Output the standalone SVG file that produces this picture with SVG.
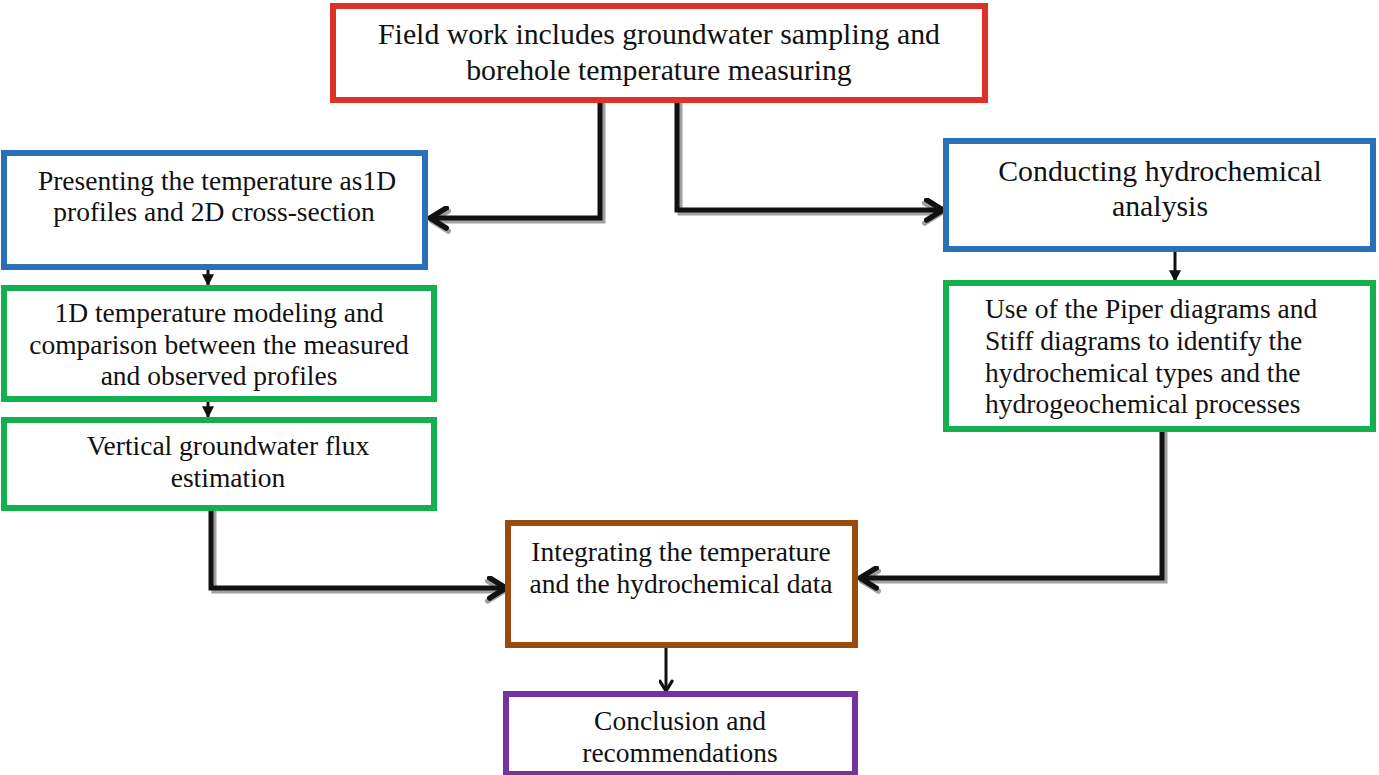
<svg xmlns="http://www.w3.org/2000/svg" width="1379" height="775" viewBox="0 0 1379 775">
<style>
.box{fill:#fff;stroke-width:6}
.red{stroke:#e03127}
.blue{stroke:#2a70b8}
.green{stroke:#12b04f}
.brown{stroke:#9a4a0c}
.purple{stroke:#7432a0}
text{font-family:"Liberation Serif","Times New Roman",serif;fill:#111;text-anchor:middle}
.t26{font-size:29.8px}
.t24{font-size:27.5px}
.conn{fill:none;stroke:#111;stroke-width:5}
.shadow{fill:none;stroke:#a0a0a0;stroke-width:5}
.thin{fill:none;stroke:#111;stroke-width:3}
</style>
<defs>
<marker id="chev" viewBox="0 0 10 10" refX="8.5" refY="5" markerWidth="5" markerHeight="5" orient="auto" markerUnits="strokeWidth">
<polyline points="2,1 8.5,5 2,9" fill="none" stroke="#111" stroke-width="2.2" stroke-linecap="round" stroke-linejoin="round"/>
</marker>
<marker id="chevs" viewBox="0 0 10 10" refX="8.5" refY="5" markerWidth="5" markerHeight="5" orient="auto" markerUnits="strokeWidth">
<polyline points="2,1 8.5,5 2,9" fill="none" stroke="#a0a0a0" stroke-width="2.2" stroke-linecap="round" stroke-linejoin="round"/>
</marker>
<marker id="tri" viewBox="0 0 10 10" refX="9" refY="5" markerWidth="4" markerHeight="4" orient="auto" markerUnits="strokeWidth">
<path d="M0,0 L10,5 L0,10 z" fill="#111"/>
</marker>
</defs>

<g id="connectors">
<path class="shadow" d="M603,103 V221 H432" marker-end="url(#chevs)"/>
<path class="shadow" d="M680,103 V213 H941" marker-end="url(#chevs)"/>
<path class="shadow" d="M214,508 V591 H504" marker-end="url(#chevs)"/>
<path class="shadow" d="M1165,431 V581 H862" marker-end="url(#chevs)"/>
<path class="conn" d="M600,100 V218 H430" marker-end="url(#chev)"/>
<path class="conn" d="M677,100 V210 H943" marker-end="url(#chev)"/>
<path class="conn" d="M211,505 V588 H506" marker-end="url(#chev)"/>
<path class="conn" d="M1162,428 V578 H860" marker-end="url(#chev)"/>
<path class="thin" d="M208,270 V285" marker-end="url(#tri)"/>
<path class="thin" d="M208,402 V417" marker-end="url(#tri)"/>
<path class="thin" d="M1175,252 V281" marker-end="url(#tri)"/>
<path class="thin" d="M666,638 V691" marker-end="url(#chev)"/>
</g>

<g id="n1">
<rect class="box red" x="333" y="6" width="652" height="94"/>
<text class="t26" x="659" y="44">Field work includes groundwater sampling and</text>
<text class="t26" x="659" y="80">borehole temperature measuring</text>
</g>
<g id="n2">
<rect class="box blue" x="4" y="153" width="421" height="114"/>
<text class="t24" x="217" y="190">Presenting the temperature as1D</text>
<text class="t24" x="214" y="221">profiles and 2D cross-section</text>
</g>
<g id="n3">
<rect class="box green" x="4" y="288" width="430" height="111"/>
<text class="t24" x="219" y="322">1D temperature modeling and</text>
<text class="t24" x="219" y="354">comparison between the measured</text>
<text class="t24" x="219" y="385">and observed profiles</text>
</g>
<g id="n4">
<rect class="box green" x="4" y="420" width="430" height="88"/>
<text class="t24" x="228" y="455">Vertical groundwater flux</text>
<text class="t24" x="228" y="487">estimation</text>
</g>
<g id="n5">
<rect class="box blue" x="946" y="141" width="427" height="108"/>
<text class="t26" x="1160" y="181">Conducting hydrochemical</text>
<text class="t26" x="1160" y="216">analysis</text>
</g>
<g id="n6">
<rect class="box green" x="946" y="283" width="427" height="146"/>
<text class="t24" x="985" y="318" style="text-anchor:start">Use of the Piper diagrams and</text>
<text class="t24" x="985" y="350" style="text-anchor:start">Stiff diagrams to identify the</text>
<text class="t24" x="985" y="382" style="text-anchor:start">hydrochemical types and the</text>
<text class="t24" x="985" y="413" style="text-anchor:start">hydrogeochemical processes</text>
</g>
<g id="n7">
<rect class="box brown" x="508" y="523" width="347" height="122"/>
<text class="t24" x="681" y="561">Integrating the temperature</text>
<text class="t24" x="681" y="593">and the hydrochemical data</text>
</g>
<g id="n8">
<rect class="box purple" x="506" y="694" width="349" height="80"/>
<text class="t24" x="680" y="730">Conclusion and</text>
<text class="t24" x="680" y="762">recommendations</text>
</g>
</svg>
